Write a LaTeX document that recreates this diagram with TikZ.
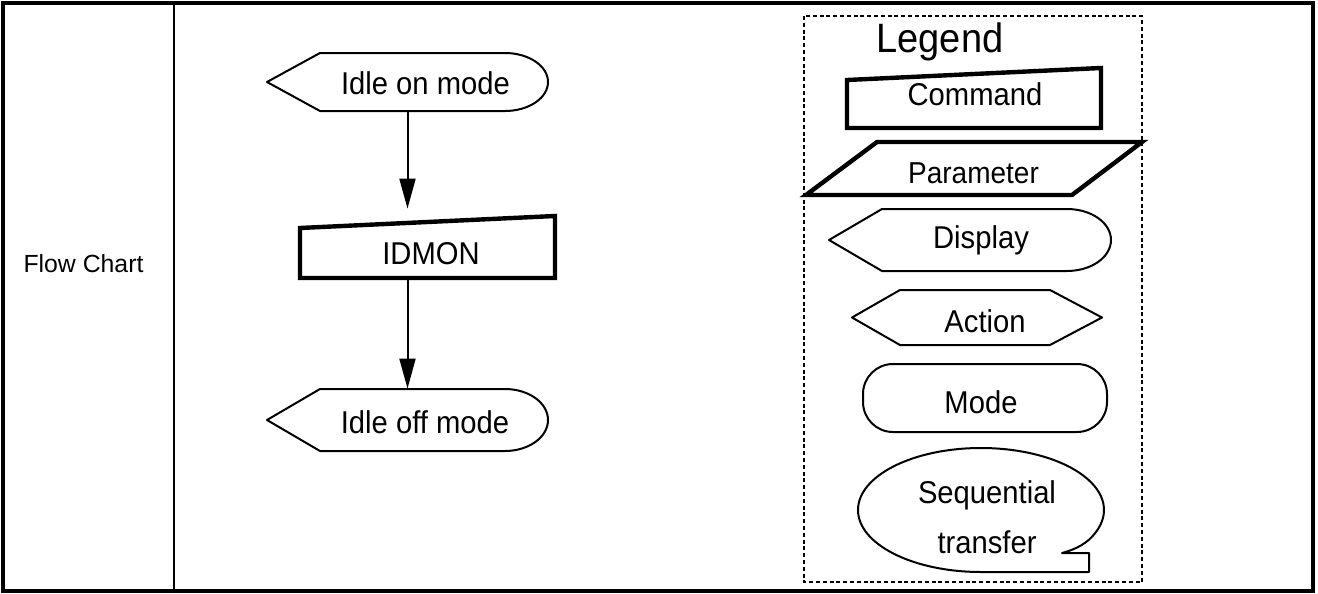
\documentclass[tikz,border=0pt]{standalone}
\usepackage{fontspec}
\setmainfont{Liberation Sans}
\usetikzlibrary{arrows.meta}
\tikzset{
  frame/.style={line width=2pt},
  divider/.style={line width=1.3pt},
  legendbox/.style={line width=1.2pt, dash pattern=on 2pt off 1.4pt},
  thinshape/.style={line width=1pt, line join=round},
  thickshape/.style={line width=2.2pt, line join=miter},
  arr/.style={line width=1pt, -{Triangle[length=15pt,width=8pt]}},
  txt/.style={font=\fontsize{14.6}{16}\selectfont, inner sep=0pt, anchor=base, yscale=1.08, transform shape},
  box/.style={inner sep=0pt, draw=none},
}
\begin{document}
\begin{tikzpicture}[x=0.5pt,y=0.5pt]
\useasboundingbox (0,0) rectangle (1318,-594);
\fill[white] (0,0) rectangle (1318,-594);

% table frame
\draw[frame] (3,-3) rectangle (1313,-591);
\draw[divider] (174,-3) -- (174,-591);
\node[font=\fontsize{12.4}{14}\selectfont, inner sep=0pt, anchor=base] (fc) at (83.5,-272) {Flow Chart};

% flow chart boxes (bounding boxes)
\node[box, minimum width=140.5pt, minimum height=29pt] (ion) at (407.5,-82) {};
\node[box, minimum width=127.5pt, minimum height=31pt] (idm) at (427.5,-247) {};
\node[box, minimum width=140.5pt, minimum height=31pt] (ioff) at (407.5,-420) {};

% shapes
\draw[thinshape] (267,-82) -- (320,-53) -- (505,-53)
  arc[start angle=90, end angle=-90, x radius=43, y radius=29] -- (320,-111) -- cycle;
\draw[thickshape] (300,-228) -- (555,-216) -- (555,-278) -- (300,-278) -- cycle;
\draw[thinshape] (267,-420) -- (320,-389) -- (505,-389)
  arc[start angle=90, end angle=-90, x radius=43, y radius=31] -- (320,-451) -- cycle;

\node[txt] (tion) at (425.5,-94) {Idle on mode};
\node[txt] (tidm) at (431,-264) {IDMON};
\node[txt] (tioff) at (425,-433) {Idle off mode};

% connectors
\draw[arr, shorten >=3.5pt] (ion.south) -- (ion.south |- idm.north);
\draw[arr] (ioff.north |- idm.south) -- (ioff.north);

% legend
\draw[legendbox] (804,-16) rectangle (1142,-582);
\node[txt, font=\fontsize{19}{22}\selectfont] (leg) at (940,-53) {Legend};

\draw[thickshape] (847,-80) -- (1101,-68) -- (1101,-128) -- (847,-128) -- cycle;
\node[txt] (cmd) at (975,-105) {Command};

\draw[thickshape] (877,-142) -- (1142,-142) -- (1072,-195) -- (806,-195) -- cycle;
\node[txt, font=\fontsize{14}{16}\selectfont] (par) at (973.5,-183) {Parameter};

\draw[thinshape] (829,-240) -- (882,-209) -- (1067,-209)
  arc[start angle=90, end angle=-90, x radius=44, y radius=31] -- (882,-271) -- cycle;
\node[txt] (disp) at (981,-248) {Display};

\draw[thinshape] (852,-317.5) -- (900,-290) -- (1050,-290) -- (1102,-317.5) -- (1050,-345) -- (900,-345) -- cycle;
\node[txt] (act) at (985,-332) {Action};

\draw[thinshape, rounded corners=15pt] (863,-364) rectangle (1107,-432);
\node[txt] (mode) at (981,-413) {Mode};

\draw[thinshape] (981,-572) arc[start angle=-90, end angle=-385, x radius=123, y radius=62]
  .. controls (1084,-546) and (1070,-551) .. (1062,-553) -- (1089,-553) -- (1089,-572) -- cycle;
\node[txt, align=center] (seq) at (987,-553) {Sequential\\[7pt]transfer};
\end{tikzpicture}
\end{document}
